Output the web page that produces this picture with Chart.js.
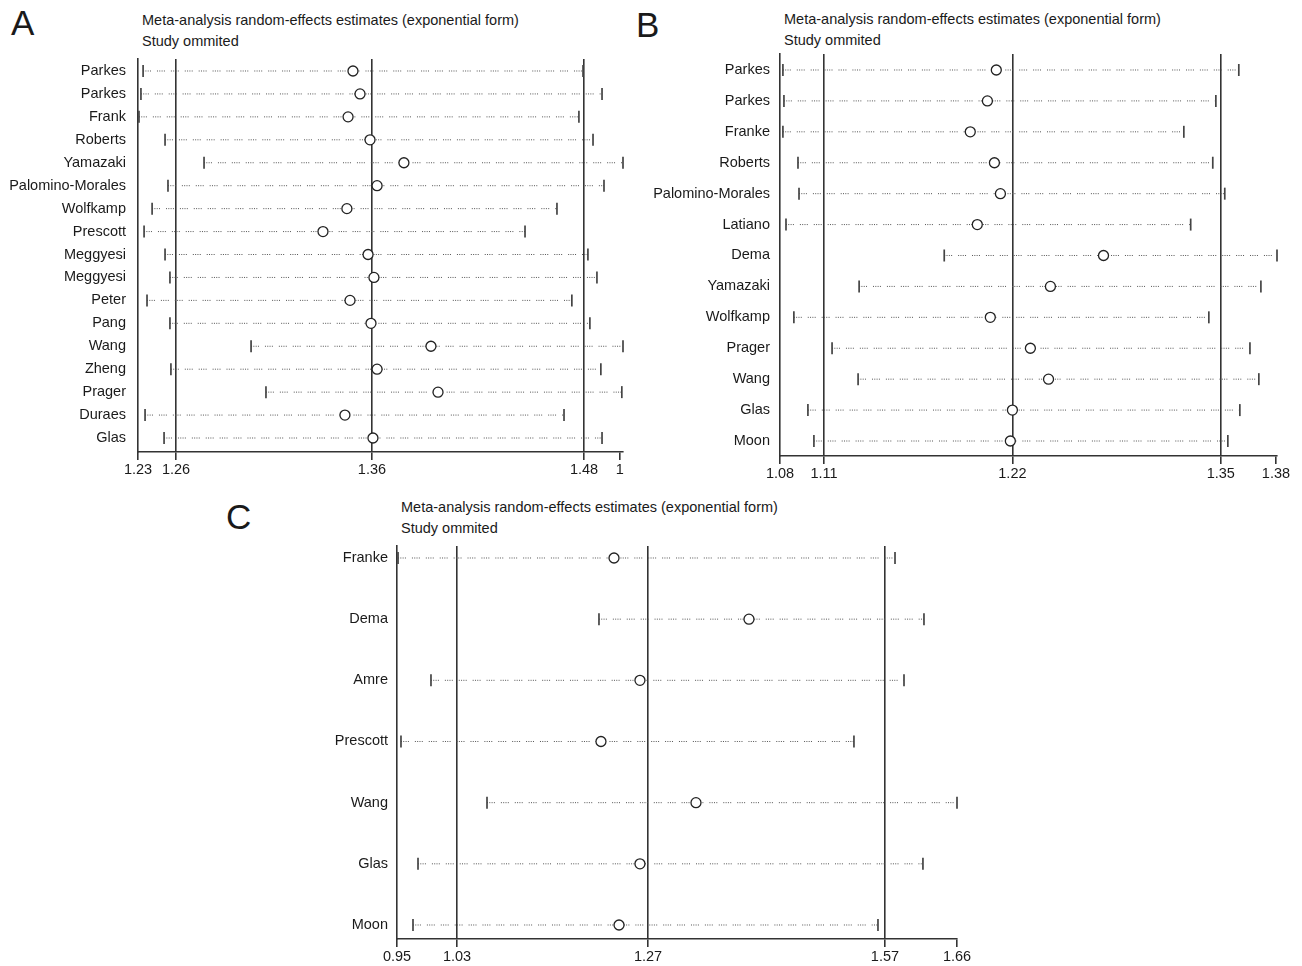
<!DOCTYPE html>
<html>
<head>
<meta charset="utf-8">
<title>Meta-analysis sensitivity analysis</title>
<script src="https://cdn.jsdelivr.net/npm/chart.js@4.4.1/dist/chart.umd.min.js"></script>
<style>
  body { margin: 0; background: #fff; }
  #page { position: relative; width: 1302px; height: 966px; overflow: hidden;
          font-family: "Liberation Sans", Arial, sans-serif; color: #1a1a1a; }
  .letter { position: absolute; font-size: 35px; line-height: 40px; }
  .title { position: absolute; font-size: 14.5px; line-height: 21px; white-space: nowrap; }
  canvas { position: absolute; }
</style>
</head>
<body>
<div id="page">
  <div class="letter" style="left:11px;top:3px">A</div>
  <div class="title" style="left:142px;top:10px">Meta-analysis random-effects estimates (exponential form)<br>Study ommited</div>
  <div class="letter" style="left:636px;top:5px">B</div>
  <div class="title" style="left:784px;top:9px">Meta-analysis random-effects estimates (exponential form)<br>Study ommited</div>
  <div class="letter" style="left:226px;top:497px">C</div>
  <div class="title" style="left:401px;top:497px">Meta-analysis random-effects estimates (exponential form)<br>Study ommited</div>
  <canvas id="chartA"></canvas>
  <canvas id="chartB"></canvas>
  <canvas id="chartC"></canvas>
</div>
<script>
// ============================
//  DATA - panel A
// ============================
const studiesA = ["Parkes", "Parkes", "Frank", "Roberts", "Yamazaki", "Palomino-Morales", "Wolfkamp",
  "Prescott", "Meggyesi", "Meggyesi", "Peter", "Pang", "Wang", "Zheng", "Prager", "Duraes", "Glas"];
const lowerA = [1.2432, 1.2421, 1.2411, 1.2544, 1.2743, 1.2559, 1.2478, 1.2437, 1.2544, 1.2569,
  1.2452, 1.2569, 1.2983, 1.2574, 1.3059, 1.2442, 1.2539];
const estA = [1.3503, 1.3539, 1.3478, 1.3590, 1.3763, 1.3626, 1.3472, 1.3350, 1.3580, 1.3610,
  1.3488, 1.3595, 1.3901, 1.3626, 1.3937, 1.3462, 1.3605];
const upperA = [1.4677, 1.4774, 1.4656, 1.4728, 1.4881, 1.4784, 1.4544, 1.4381, 1.4702, 1.4748,
  1.4620, 1.4712, 1.4881, 1.4768, 1.4875, 1.4580, 1.4774];
const tickValsA = [1.2406, 1.26, 1.36, 1.4682, 1.4865];
const tickLabelsA = ["1.23", "1.26", "1.36", "1.48", "1"];
const refLinesA = [1.26, 1.36, 1.4682];

// ============================
//  DATA - panel B
// ============================
const studiesB = ["Parkes", "Parkes", "Franke", "Roberts", "Palomino-Morales", "Latiano", "Dema",
  "Yamazaki", "Wolfkamp", "Prager", "Wang", "Glas", "Moon"];
const lowerB = [1.0860, 1.0866, 1.0860, 1.0948, 1.0954, 1.0878, 1.1802, 1.1305, 1.0924, 1.1147,
  1.1299, 1.1006, 1.1041];
const estB = [1.2106, 1.2054, 1.1954, 1.2095, 1.2130, 1.1995, 1.2732, 1.2422, 1.2071, 1.2305,
  1.2411, 1.2200, 1.2188];
const upperB = [1.3522, 1.3388, 1.3201, 1.3370, 1.3440, 1.3241, 1.3745, 1.3651, 1.3347, 1.3587,
  1.3639, 1.3528, 1.3458];
const tickValsB = [1.0843, 1.11, 1.22, 1.3417, 1.3739];
const tickLabelsB = ["1.08", "1.11", "1.22", "1.35", "1.38"];
const refLinesB = [1.11, 1.22, 1.3417];

// ============================
//  DATA - panel C
// ============================
const studiesC = ["Franke", "Dema", "Amre", "Prescott", "Wang", "Glas", "Moon"];
const lowerC = [0.9559, 1.2084, 0.9973, 0.9596, 1.0677, 0.9810, 0.9747];
const estC = [1.2273, 1.3969, 1.2599, 1.2109, 1.3303, 1.2599, 1.2336];
const upperC = [1.5804, 1.6168, 1.5917, 1.5288, 1.6583, 1.6155, 1.5590];
const tickValsC = [0.9546, 1.03, 1.27, 1.5678, 1.6583];
const tickLabelsC = ["0.95", "1.03", "1.27", "1.57", "1.66"];
const refLinesC = [1.03, 1.27, 1.5678];

// ============================
//  DRAWING
// ============================
Chart.defaults.font.family = '"Liberation Sans", Arial, sans-serif';
Chart.defaults.color = '#1a1a1a';

const AXIS = '#333';
const X_AXIS_H = 24;
const TOP_PAD = 30;   // more than the auto padding of the y labels

// area = plot area on the page; canvas is built around it
function drawPanel(id, area, canvasRight, canvasBottom, canvasLeft, names, lower, est, upper,
                   tickVals, tickLabels, refLines, yMin, yMax, labelPad) {
    const cv = document.getElementById(id);
    const top = area.top - TOP_PAD;
    cv.width = canvasRight - canvasLeft;
    cv.height = canvasBottom - top;
    cv.style.left = canvasLeft + 'px';
    cv.style.top = top + 'px';

    const ciSets = names.map((n, i) => ({
        label: n,
        data: [{ x: lower[i], y: i }, { x: upper[i], y: i }],
        showLine: true,
        borderColor: '#555',
        borderWidth: 1,
        borderDash: [1, 1.3, 1, 1.3, 1, 1.3, 1, 6],
        pointStyle: 'line',
        pointRotation: 90,
        pointRadius: 6,
        pointBorderColor: '#444',
        pointBorderWidth: 1.7,
        clip: false,
        order: 2
    }));

    const estSet = {
        label: 'estimate',
        data: est.map((v, i) => ({ x: v, y: i })),
        pointStyle: 'circle',
        pointRadius: 5,
        pointBackgroundColor: '#fff',
        pointBorderColor: '#222',
        pointBorderWidth: 1.3,
        clip: false,
        order: 1
    };

    return new Chart(cv, {
        type: 'scatter',
        data: { datasets: [estSet, ...ciSets] },
        options: {
            responsive: false,
            animation: false,
            events: [],
            layout: {
                autoPadding: false,
                padding: {
                    left: 0,
                    top: TOP_PAD,
                    right: canvasRight - area.right,
                    bottom: canvasBottom - area.bottom - X_AXIS_H
                }
            },
            plugins: { legend: { display: false }, tooltip: { enabled: false } },
            scales: {
                x: {
                    type: 'linear',
                    min: tickVals[0],
                    max: Math.max(tickVals[tickVals.length - 1], ...upper),
                    afterBuildTicks: s => { s.ticks = tickVals.map(v => ({ value: v })); },
                    afterFit: s => { s.height = X_AXIS_H; },
                    ticks: {
                        autoSkip: false, maxRotation: 0, padding: 1,
                        font: { size: 14.5 }, color: '#1a1a1a',
                        callback: (v, i) => tickLabels[i]
                    },
                    grid: {
                        color: c => (c.tick && refLines.includes(c.tick.value)) ? AXIS : 'rgba(0,0,0,0)',
                        lineWidth: 1.6,
                        tickLength: 8,
                        tickColor: AXIS,
                        tickWidth: 1.6
                    },
                    border: { display: true, color: AXIS, width: 1.6 }
                },
                y: {
                    type: 'linear',
                    reverse: true,
                    min: yMin,
                    max: yMax,
                    afterBuildTicks: s => { s.ticks = names.map((n, i) => ({ value: i })); },
                    afterFit: s => { s.width = area.left - canvasLeft; },
                    ticks: {
                        autoSkip: false, padding: labelPad,
                        font: { size: 14.5 }, color: '#1a1a1a',
                        callback: (v, i) => names[i]
                    },
                    grid: { display: true, drawOnChartArea: false, drawTicks: false },
                    border: { display: true, color: AXIS, width: 1.6 }
                }
            }
        }
    });
}

drawPanel('chartA', { left: 138, top: 59, right: 623, bottom: 452 }, 640, 490, 0,
    studiesA, lowerA, estA, upperA, tickValsA, tickLabelsA, refLinesA, -0.523, 16.61, 12);

drawPanel('chartB', { left: 780, top: 54, right: 1277, bottom: 456 }, 1302, 490, 640,
    studiesB, lowerB, estB, upperB, tickValsB, tickLabelsB, refLinesB, -0.517, 12.485, 10);

drawPanel('chartC', { left: 397, top: 546, right: 957, bottom: 939 }, 1000, 966, 220,
    studiesC, lowerC, estC, upperC, tickValsC, tickLabelsC, refLinesC, -0.196, 6.229, 9);
</script>
</body>
</html>
